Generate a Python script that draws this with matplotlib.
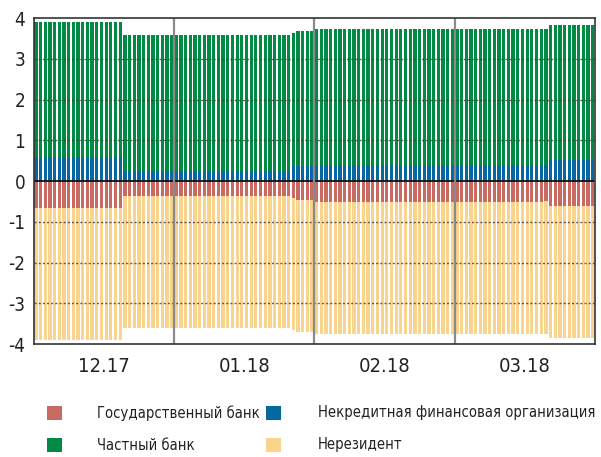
import numpy as np
import matplotlib
matplotlib.use("Agg")
import matplotlib.pyplot as plt
from matplotlib.patches import Rectangle

plt.rcParams['font.family'] = ['DejaVu Sans']
plt.rcParams['font.stretch'] = 'condensed'

# Daily balances by counterparty type (run lengths: number of consecutive days at each level)
run_lengths   = [19, 36, 1, 4, 49, 1, 10]
state_bank    = [-0.66, -0.36, -0.41, -0.46, -0.51, -0.49, -0.61]
nonbank_fin   = [0.58, 0.245, 0.375, 0.375, 0.39, 0.39, 0.52]
private_bank  = [3.31, 3.345, 3.265, 3.315, 3.35, 3.33, 3.32]
nonresident   = [-3.24, -3.24, -3.24, -3.24, -3.24, -3.25, -3.23]

months = ["12.17", "01.18", "02.18", "03.18"]
days_per_month = 30

colors = {"state": "#C96A62", "nonbank": "#0767A2", "private": "#008A43", "nonres": "#F8D48E"}
legend_rows = [
    [("state", "Государственный банк"), ("nonbank", "Некредитная финансовая организация")],
    [("private", "Частный банк"), ("nonres", "Нерезидент")],
]

state = np.repeat(state_bank, run_lengths)
nonbank = np.repeat(nonbank_fin, run_lengths)
private = np.repeat(private_bank, run_lengths)
nonres = np.repeat(nonresident, run_lengths)
x = np.arange(len(state))

W, H = 601, 457
fig = plt.figure(figsize=(W / 100, H / 100), dpi=100)
ax = fig.add_axes([0.056, 0.247, 0.934, 0.7136])

w = 0.7
ax.bar(x, nonbank, width=w, color=colors["nonbank"], zorder=2)
ax.bar(x, private, width=w, bottom=nonbank, color=colors["private"], zorder=2)
ax.bar(x, state, width=w, color=colors["state"], zorder=2)
ax.bar(x, nonres, width=w, bottom=state, color=colors["nonres"], zorder=2)

ax.set_xlim(-0.5, len(x) - 0.5)
ax.set_ylim(-4, 4)

for yv in [-3, -2, -1, 1, 2, 3]:
    ax.axhline(yv, color="#3a3a3a", lw=1.0, ls=(0, (1.5, 1.5)), zorder=3, alpha=0.8)
ax.axhline(0, color="#111111", lw=1.3, zorder=4)

for k in range(1, len(months)):
    ax.axvline(k * days_per_month - 0.5, color="#8a8a8a", lw=1.6, zorder=5)

for sp in ax.spines.values():
    sp.set_color("#333333")
    sp.set_linewidth(1.2)
    sp.set_zorder(6)

ax.set_yticks(range(-4, 5))
ax.set_yticklabels([str(v) for v in range(-4, 5)])
ax.set_xticks([days_per_month * (k + 0.5) - 0.5 for k in range(len(months))])
ax.set_xticklabels(months)
ax.tick_params(axis="y", length=0, pad=6, labelsize=13.5, colors="#222222")
ax.tick_params(axis="x", length=0, pad=9, labelsize=14.5, colors="#222222")

# Legend laid out in two rows of two entries
row_y = [413, 445]
col_sq = [47, 266]
col_tx = [97, 318]
for r, row in enumerate(legend_rows):
    for c, (key, label) in enumerate(row):
        yc = row_y[r]
        fig.patches.append(Rectangle((col_sq[c] / W, 1 - (yc + 7) / H), 15 / W, 14 / H,
                                     transform=fig.transFigure, facecolor=colors[key],
                                     edgecolor="none"))
        fig.text(col_tx[c] / W, 1 - yc / H, label, fontsize=10.6, color="#222222",
                 ha="left", va="center")

fig.savefig("out.png", dpi=100)
